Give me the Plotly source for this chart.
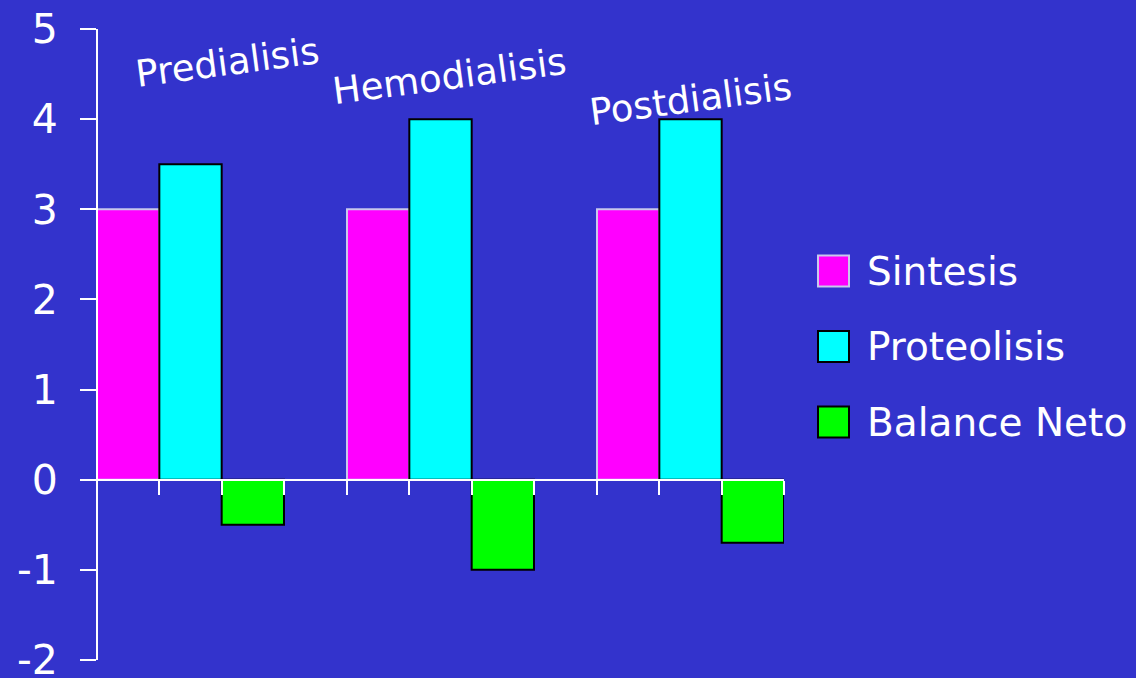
import plotly.graph_objects as go

# ---- data ----
categories = ["Predialisis", "Hemodialisis", "Postdialisis"]
series_names = ["Sintesis", "Proteolisis", "Balance Neto"]
sintesis = [3, 3, 3]
proteolisis = [3.5, 4, 4]
balance_neto = [-0.5, -1, -0.7]
y_ticks = [-2, -1, 0, 1, 2, 3, 4, 5]
y_ticktext = ["-2", "-1", "0", "1", "2", "3", "4", "5"]

# ---- style ----
BG = "#3333CC"
fills = ["#FF00FF", "#00FFFF", "#00FF00"]
borders = ["#C8C8EC", "#000000", "#000000"]
FONT = "DejaVu Sans"
YMIN, YMAX = -2, 5
BARGAP = 0.252
W, H = 1136, 678
ML, MR, MT, MB = 97, 352, 29, 18

xpos = list(range(len(categories)))
values = [sintesis, proteolisis, balance_neto]

fig = go.Figure()
for name, vals, fc, bc in zip(series_names, values, fills, borders):
    fig.add_trace(go.Bar(
        x=xpos, y=vals, name=name,
        marker=dict(color=fc, line=dict(color=bc, width=2)),
        showlegend=False, hoverinfo="skip",
    ))

# tick marks at bar boundaries along the zero line
n = len(series_names)
gw = 1 - BARGAP
tickvals = []
for c in xpos:
    for k in range(n + 1):
        tickvals.append(c - gw / 2 + k * gw / n)

xmin = xpos[0] - gw / 2
xmax = xpos[-1] + gw / 2
zero_pos = (0 - YMIN) / (YMAX - YMIN)

fig.update_layout(
    width=W, height=H,
    margin=dict(l=ML, r=MR, t=MT, b=MB, autoexpand=False),
    paper_bgcolor=BG, plot_bgcolor=BG,
    barmode="group", bargap=BARGAP, bargroupgap=0,
    showlegend=False,
    xaxis=dict(
        type="linear", range=[xmin, xmax], domain=[0, 1],
        anchor="free", position=zero_pos, automargin=False,
        showline=True, linecolor="white", linewidth=2,
        ticks="outside", ticklen=14, tickwidth=2, tickcolor="white",
        tickmode="array", tickvals=tickvals, showticklabels=False,
        showgrid=False, zeroline=False, layer="above traces",
    ),
    yaxis=dict(
        range=[YMIN, YMAX], anchor="free", position=0, automargin=False,
        showline=True, linecolor="white", linewidth=2,
        ticks="outside", ticklen=16, tickwidth=2, tickcolor="white",
        tickmode="array", tickvals=y_ticks, ticktext=y_ticktext,
        tickfont=dict(family=FONT, size=41, color="white"),
        ticklabelstandoff=14, ticklabeloverflow="allow",
        showgrid=False, zeroline=False,
    ),
)

# category labels (rotated, above the groups)
label_y = [4.63, 4.47, 4.22]
label_dx = [37, 9, 0]
for c, lab, ly, dx in zip(xpos, categories, label_y, label_dx):
    fig.add_annotation(
        x=c, y=ly, xref="x", yref="y", text=lab, showarrow=False,
        xshift=dx, textangle=-7.5,
        font=dict(family=FONT, size=37, color="white"),
    )

# custom legend with large square swatches
plot_h = H - MT - MB
first_center_px = 271
step_px = 75.5
for i, (name, fc, bc) in enumerate(zip(series_names, fills, borders)):
    cy_px = first_center_px + i * step_px
    py = (H - MB - cy_px) / plot_h
    fig.add_shape(
        type="rect", xref="paper", yref="paper",
        xsizemode="pixel", ysizemode="pixel",
        xanchor=1, yanchor=py,
        x0=34, x1=65, y0=-15.5, y1=15.5,
        fillcolor=fc, line=dict(color=bc, width=2),
    )
    fig.add_annotation(
        x=1, y=py, xref="paper", yref="paper", text=name,
        showarrow=False, xanchor="left", yanchor="middle", xshift=81,
        font=dict(family=FONT, size=39, color="white"),
    )

fig.write_html(
    "out.html",
    config={"displayModeBar": False},
    post_script="document.body.style.margin='0';document.body.style.background='%s';" % BG,
)
